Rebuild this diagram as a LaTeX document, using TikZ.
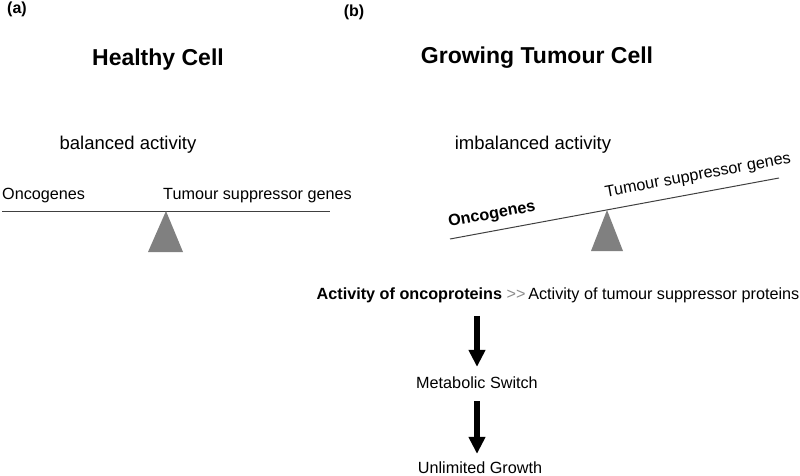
\documentclass[tikz,border=0pt]{standalone}
\usepackage{fontspec}
\setmainfont{Liberation Sans}
\usetikzlibrary{arrows.meta}

\tikzset{
  panel/.style={font=\fontsize{16}{19}\selectfont\bfseries, inner sep=0pt},
  title/.style={font=\fontsize{23}{27}\selectfont\bfseries, inner sep=0pt},
  sub/.style={font=\fontsize{18.5}{22}\selectfont, inner sep=0pt},
  lbl/.style={font=\fontsize{16.2}{19}\selectfont, inner sep=1pt},
  beam/.style={draw=black!75, line width=1pt},
  pivot/.style={fill=black!50, draw=none},
  bigarrow/.style={line width=6pt, -{Triangle[length=17pt,width=16pt]}},
}

\begin{document}
\begin{tikzpicture}[x=1pt, y=-1pt]
    \useasboundingbox (0,0) rectangle (800,476);

    % Panel (a): healthy cell
    \node[panel] (pa) at (17,9) {(a)};
    \node[title] (healthy) at (158,60) {Healthy Cell};
    \node[sub] (balanced) at (128,145) {balanced activity};
    \node[lbl, anchor=west, inner sep=0pt] (oncoA) at (2,196) {Oncogenes};
    \node[lbl, anchor=west, inner sep=0pt] (tsgA) at (163,196) {Tumour suppressor genes};
    \draw[beam] (2,211) -- (330,211);
    \fill[pivot] (166,211) -- (148,252) -- (183,252) -- cycle;

    % Panel (b): growing tumour cell
    \node[panel] (pb) at (354,12) {(b)};
    \node[title] (tumour) at (537,58) {Growing Tumour Cell};
    \node[sub] (imbalanced) at (533,145) {imbalanced activity};
    \draw[beam] (450,239) -- (779,178);
    \fill[pivot] (607,210) -- (591,251) -- (623,251) -- cycle;
    \node[lbl, inner sep=0pt, rotate=10.5, font=\fontsize{16.2}{19}\selectfont\bfseries] (oncoB) at (492,215) {Oncogenes};
    \node[lbl, inner sep=0pt, rotate=10.5] (tsgB) at (698,176) {Tumour suppressor genes};

    % Consequences
    \node[lbl] (act) at (558,295) {\textbf{Activity of oncoproteins} {\color{black!45}>\kern0pt>}\,Activity of tumour suppressor proteins};
    \node[lbl] (switch) at (477,383) {Metabolic Switch};
    \node[lbl] (growth) at (480,468) {Unlimited Growth};
    \draw[bigarrow, shorten <=12pt, shorten >=9pt] (act.south -| switch.north) -- (switch.north);
    \draw[bigarrow, shorten <=11pt, shorten >=7pt] (switch.south) -- (switch.south |- growth.north);
\end{tikzpicture}
\end{document}
